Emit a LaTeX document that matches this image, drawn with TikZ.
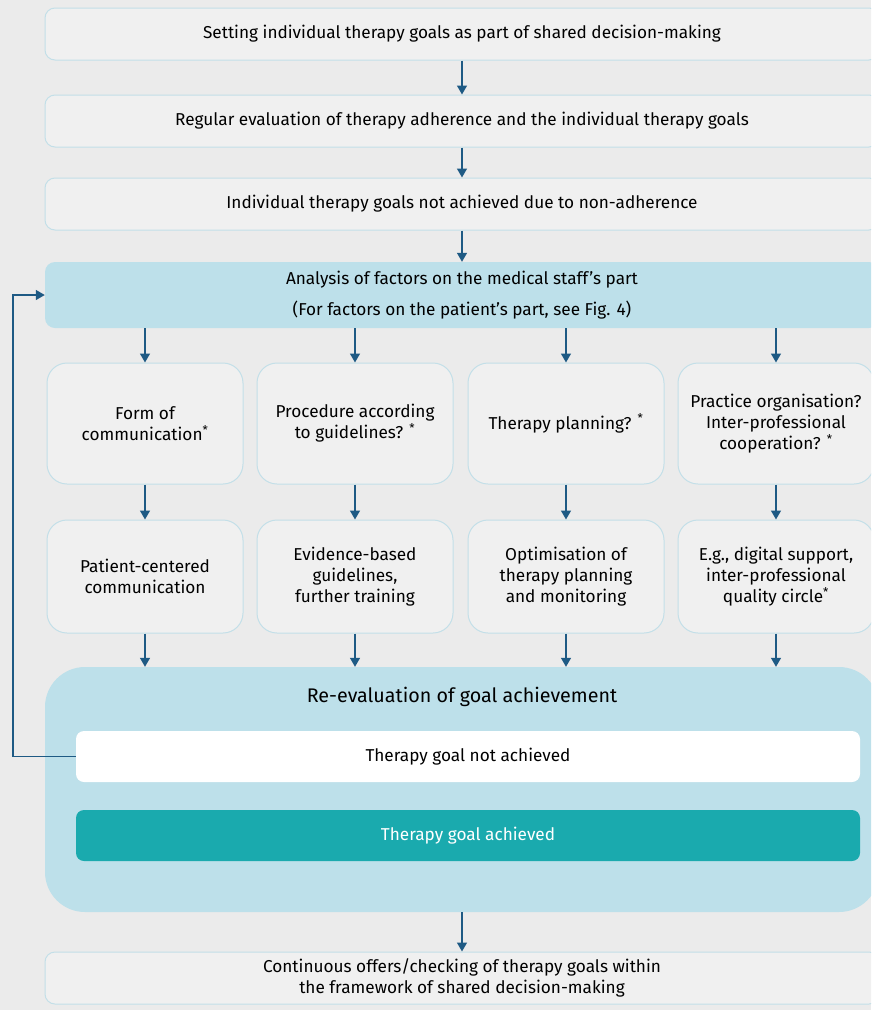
\documentclass[tikz,border=0pt]{standalone}
\usepackage{fontspec}
\setmainfont{Fira Sans}
\usetikzlibrary{arrows.meta,positioning}
\definecolor{bggray}{HTML}{EBEBEB}
\definecolor{boxgray}{HTML}{F0F0F0}
\definecolor{rimblue}{HTML}{C3DFE8}
\definecolor{paleblue}{HTML}{BDE0EA}
\definecolor{tealbox}{HTML}{1AAAAE}
\definecolor{arrblue}{HTML}{1E5A84}
\newcommand{\starmark}{\textsuperscript{*}}

\begin{document}
\begin{tikzpicture}[x=1pt,y=-1pt,font=\fontsize{17.2}{21}\selectfont]
		\fill[bggray] (0,0) rectangle (871,1010);
		\useasboundingbox (0,0) rectangle (871,1010);
		\clip (0,0) rectangle (871,1010);

		% top row of wide boxes
		\begin{scope}[every node/.style={draw=rimblue,fill=boxgray,line width=1pt,rounded corners=10pt,
				minimum width=834pt,minimum height=52pt,align=center}]
			\node (set) at (462,34) {Setting individual therapy goals as part of shared decision-making};
			\node (eva) at (462,121) {Regular evaluation of therapy adherence and the individual therapy goals};
			\node (nad) at (462,204) {Individual therapy goals not achieved due to non-adherence};
			\node (cont) at (462,978) {Continuous offers/checking of therapy goals within\\the framework of shared decision-making};
		\end{scope}

		\node[fill=paleblue,rounded corners=10pt,minimum width=834pt,minimum height=66pt,align=center]
			(ana) at (462,295) {Analysis of factors on the medical staff’s part\\[10pt](For factors on the patient’s part, see Fig. 4)};

		% four columns
		\begin{scope}[every node/.style={draw=rimblue,fill=boxgray,line width=1pt,rounded corners=20pt,
				minimum width=196pt,align=center}]
			\node[minimum height=121pt] (qa) at (145,423.5) {Form of\\communication\starmark};
			\node[minimum height=121pt] (qb) at (355,423.5) {Procedure according\\to guidelines? \starmark};
			\node[minimum height=121pt] (qc) at (566,423.5) {Therapy planning? \starmark};
			\node[minimum height=121pt] (qd) at (776,423.5) {Practice organisation?\\Inter-professional\\cooperation? \starmark};

			\node[minimum height=113pt] (ma) at (145,576.5) {Patient-centered\\communication};
			\node[minimum height=113pt] (mb) at (355,576.5) {Evidence-based\\guidelines,\\further training};
			\node[minimum height=113pt] (mc) at (566,576.5) {Optimisation of\\therapy planning\\and monitoring};
			\node[minimum height=113pt] (md) at (776,576.5) {E.g., digital support,\\inter-professional\\quality circle\starmark};
		\end{scope}

		% re-evaluation block
		\node[fill=paleblue,rounded corners=40pt,minimum width=834pt,minimum height=245pt] (re) at (462,789.5) {};
		\node[font=\fontsize{19.7}{24}\selectfont] (ret) at (462,697) {Re-evaluation of goal achievement};
		\node[fill=white,rounded corners=8pt,minimum width=784pt,minimum height=51pt] (no) at (468,756.5) {Therapy goal not achieved};
		\node[fill=tealbox,text=white,rounded corners=8pt,minimum width=784pt,minimum height=51pt] (yes) at (468,835.5) {Therapy goal achieved};

		\begin{scope}[>={Triangle[width=10pt,length=9pt]},arrblue,line width=1.4pt]
			\path (set) edge[->] (eva);
			\path (eva) edge[->] (nad);
			\path (nad) edge[->] (ana);

			\path (ana.south -| qa) edge[->] (qa);
			\path (ana.south -| qb) edge[->] (qb);
			\path (ana.south -| qc) edge[->] (qc);
			\path (ana.south -| qd) edge[->] (qd);

			\path (qa) edge[->] (ma);
			\path (qb) edge[->] (mb);
			\path (qc) edge[->] (mc);
			\path (qd) edge[->] (md);

			\path (ma) edge[->] (ma |- re.north);
			\path (mb) edge[->] (mb |- re.north);
			\path (mc) edge[->] (mc |- re.north);
			\path (md) edge[->] (md |- re.north);

			\path (re) edge[->] (cont);
			\draw[->] (no.west) -- ++(-63,0) |- (ana.west);
		\end{scope}
	\end{tikzpicture}
\end{document}
